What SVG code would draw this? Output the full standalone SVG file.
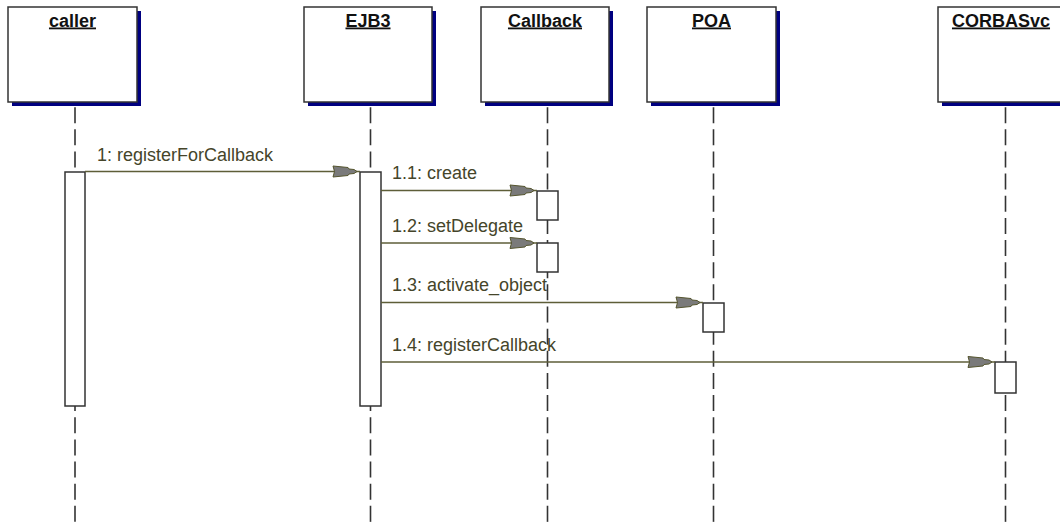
<svg xmlns="http://www.w3.org/2000/svg" width="1060" height="522" viewBox="0 0 1060 522">
  <style>
    .box { fill: #ffffff; stroke: #333333; stroke-width: 1.5; }
    .shadow { fill: #000080; stroke: none; }
    .title { font-family: "Liberation Sans", Arial, sans-serif; font-size: 18px; font-weight: bold; fill: #111111; text-anchor: middle; text-decoration: underline; }
    .life { stroke: #333333; stroke-width: 1.6; stroke-dasharray: 16 6.15; stroke-dashoffset: 17; fill: none; }
    .act { fill: #ffffff; stroke: #333333; stroke-width: 1.5; }
    .msg { stroke: #5e5e38; stroke-width: 1.5; fill: none; marker-end: url(#arrow); }
    .lbl { font-family: "Liberation Sans", Arial, sans-serif; font-size: 18px; fill: #45452a; }
  </style>
  <defs>
    <marker id="arrow" markerUnits="userSpaceOnUse" markerWidth="30" markerHeight="14" refX="27" refY="7" orient="auto" overflow="visible">
      <path d="M0,1.5 L15,3 L16,4.5 L21,5 L24,7 L21,9 L16,9.5 L15,11 L0,12.5 L1.5,7 Z" fill="#7a7a7a" stroke="#55552f" stroke-width="1"/>
    </marker>
  </defs>
  <rect width="1060" height="522" fill="#ffffff"/>

  <g id="caller">
    <line class="life" x1="75" y1="102" x2="75" y2="522"/>
    <rect class="shadow" x="12" y="11" width="129" height="95"/>
    <rect class="box" x="8" y="7" width="129" height="95"/>
    <text class="title" x="72.5" y="26.5">caller</text>
    <rect class="act" x="65" y="172" width="20" height="234"/>
  </g>

  <g id="EJB3">
    <line class="life" x1="370.5" y1="102" x2="370.5" y2="522"/>
    <rect class="shadow" x="308" y="11" width="128" height="95"/>
    <rect class="box" x="304" y="7" width="128" height="95"/>
    <text class="title" x="368" y="26.5">EJB3</text>
    <rect class="act" x="360" y="172" width="21" height="234"/>
  </g>

  <g id="Callback">
    <line class="life" x1="547.5" y1="102" x2="547.5" y2="522"/>
    <rect class="shadow" x="485" y="11" width="128" height="95"/>
    <rect class="box" x="481" y="7" width="128" height="95"/>
    <text class="title" x="545" y="26.5">Callback</text>
    <rect class="act" x="537" y="191" width="21" height="29"/>
    <rect class="act" x="537" y="243" width="21" height="29"/>
  </g>

  <g id="POA">
    <line class="life" x1="713.5" y1="102" x2="713.5" y2="522"/>
    <rect class="shadow" x="651" y="11" width="129" height="95"/>
    <rect class="box" x="647" y="7" width="129" height="95"/>
    <text class="title" x="711.5" y="26.5">POA</text>
    <rect class="act" x="703" y="303" width="21" height="29"/>
  </g>

  <g id="CORBASvc">
    <line class="life" x1="1005.5" y1="102" x2="1005.5" y2="522"/>
    <rect class="shadow" x="942" y="11" width="129" height="95"/>
    <rect class="box" x="938" y="7" width="129" height="95"/>
    <text class="title" x="1001" y="26.5">CORBASvc</text>
    <rect class="act" x="995" y="362" width="21" height="31"/>
  </g>

  <g id="connectors">
    <line class="msg" x1="85" y1="171.5" x2="360" y2="171.5"/>
    <text class="lbl" x="97" y="160.5">1: registerForCallback</text>
    <line class="msg" x1="381" y1="190.5" x2="537" y2="190.5"/>
    <text class="lbl" x="392" y="178.5">1.1: create</text>
    <line class="msg" x1="381" y1="243" x2="537" y2="243"/>
    <text class="lbl" x="392" y="231.5">1.2: setDelegate</text>
    <line class="msg" x1="381" y1="302.5" x2="703" y2="302.5"/>
    <text class="lbl" x="392" y="290.5">1.3: activate_object</text>
    <line class="msg" x1="381" y1="362" x2="995" y2="362"/>
    <text class="lbl" x="392" y="350.5">1.4: registerCallback</text>
  </g>
</svg>
